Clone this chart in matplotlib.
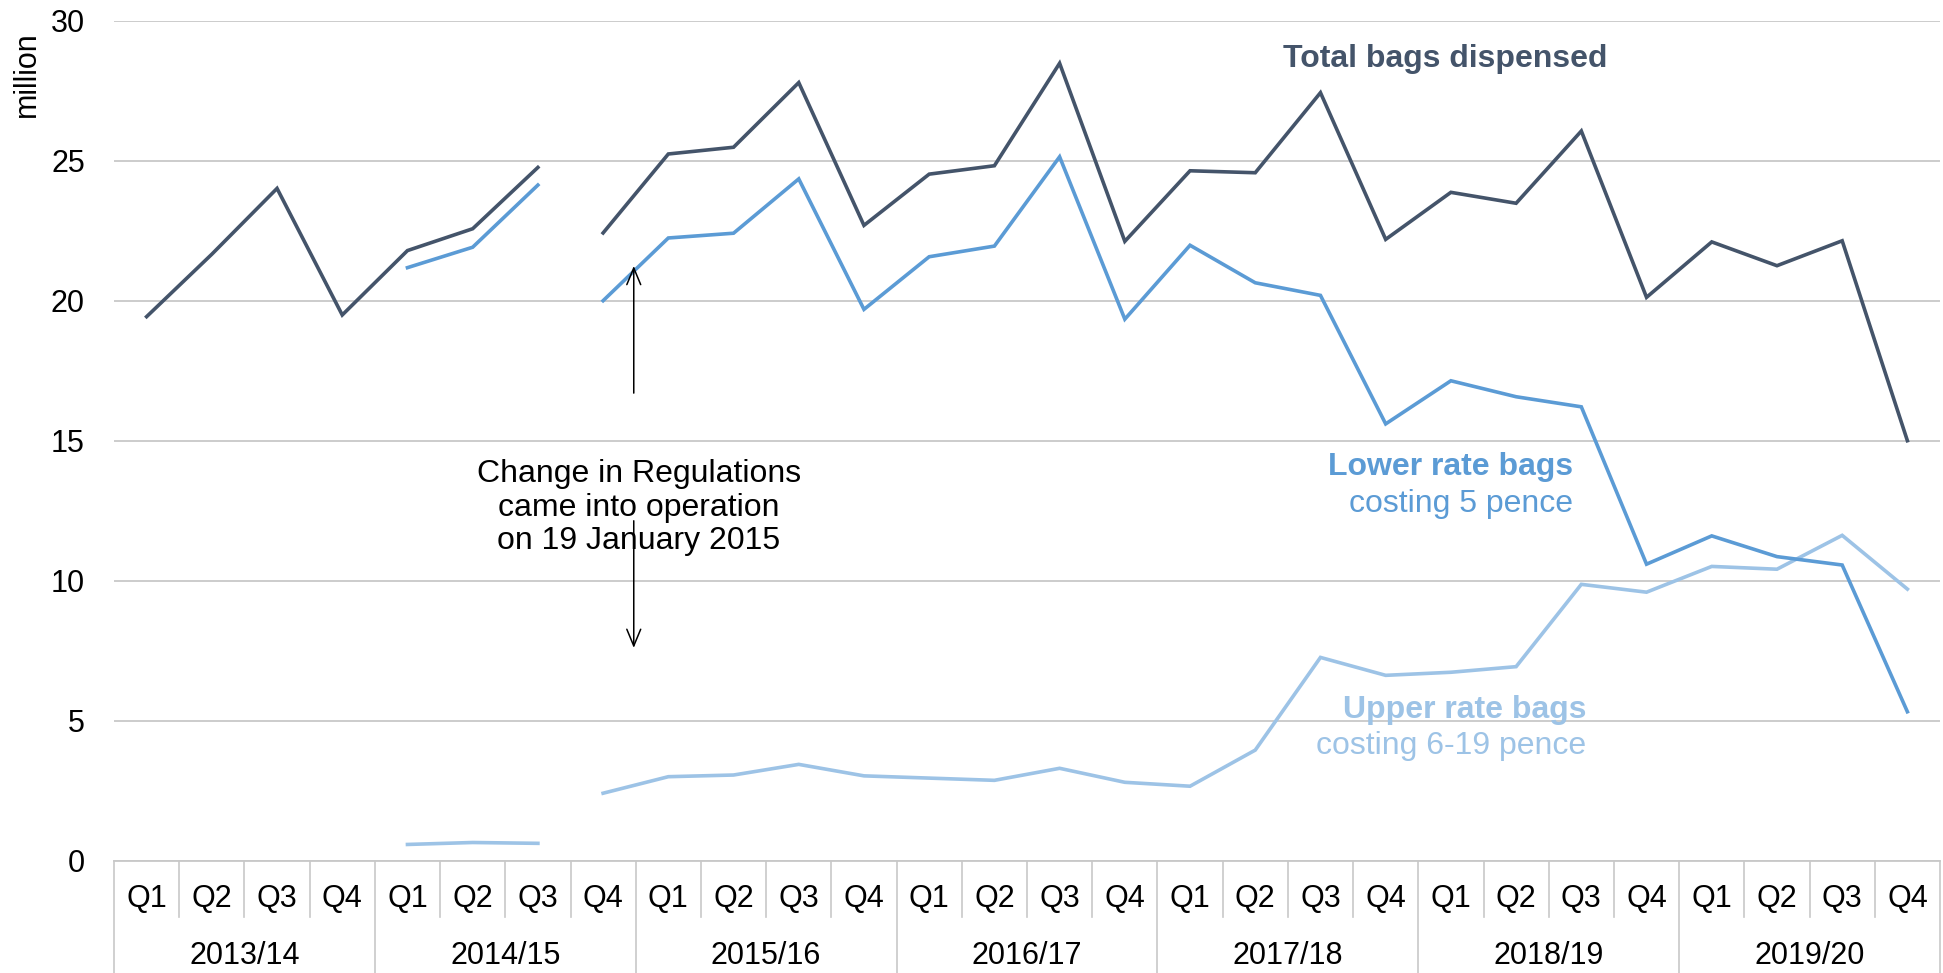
import matplotlib
matplotlib.use("Agg")
import matplotlib.pyplot as plt
import matplotlib.transforms as mtransforms
import numpy as np

plt.rcParams['font.family'] = ['Liberation Sans', 'DejaVu Sans']

years = ["2013/14", "2014/15", "2015/16", "2016/17", "2017/18", "2018/19", "2019/20"]
quarters = ["Q1", "Q2", "Q3", "Q4"]

total = [19.43, 21.66, 24.01, 19.49, 21.79, 22.57, 24.76,
         22.42, 25.24, 25.48, 27.79, 22.69, 24.52, 24.82, 28.48, 22.12,
         24.64, 24.57, 27.43, 22.19, 23.87, 23.48, 26.06, 20.12,
         22.10, 21.25, 22.14, 15.00]
lower = [np.nan, np.nan, np.nan, np.nan, 21.18, 21.91, 24.13,
         20.00, 22.24, 22.41, 24.35, 19.69, 21.57, 21.95, 25.14, 19.34,
         21.98, 20.64, 20.19, 15.60, 17.14, 16.57, 16.21, 10.59,
         11.60, 10.86, 10.56, 5.32]
upper = [np.nan, np.nan, np.nan, np.nan, 0.58, 0.65, 0.62,
         2.41, 3.00, 3.06, 3.44, 3.03, 2.95, 2.87, 3.30, 2.80,
         2.66, 3.95, 7.26, 6.62, 6.73, 6.93, 9.87, 9.59,
         10.51, 10.41, 11.62, 9.70]

split = 7  # regulation change: lines break between Q3 and Q4 of 2014/15

c_total = "#44546A"
c_lower = "#5B9BD5"
c_upper = "#9DC3E6"

W, H = 1943, 973
fig = plt.figure(figsize=(W / 100, H / 100), dpi=100)
ax = fig.add_axes([114 / W, (H - 860.7) / H, (1940 - 114) / W, (860.7 - 20.7) / H])

x = np.arange(len(total))
for series, col in [(upper, c_upper), (lower, c_lower), (total, c_total)]:
    s = np.array(series, dtype=float)
    ax.plot(x[:split], s[:split], color=col, lw=2.6, solid_joinstyle='miter', zorder=3)
    ax.plot(x[split:], s[split:], color=col, lw=2.6, solid_joinstyle='miter', zorder=3)

ax.set_xlim(-0.5, len(total) - 0.5)
ax.set_ylim(0, 30)
ax.set_yticks(np.arange(0, 31, 5))
ax.tick_params(axis='y', length=0, pad=21, labelsize=22)
ax.set_xticks([])
ax.yaxis.grid(True, color='#C8C8C8', lw=1.3)
ax.set_axisbelow(True)
for sp in ['top', 'right', 'left']:
    ax.spines[sp].set_visible(False)
ax.spines['bottom'].set_color('#C8C8C8')
ax.spines['bottom'].set_linewidth(1.3)

fig.text(27 / W, 1 - 74.5 / H, "million", rotation=90, ha='center', va='center', fontsize=22)

# hierarchical category axis
tr = mtransforms.blended_transform_factory(ax.transData, fig.transFigure)
y_axis = (H - 860.7) / H
y_qsep = (H - 917) / H
n = len(total)
for k in range(n + 1):
    xb = k - 0.5
    if k % 4 == 0:
        ax.plot([xb, xb], [y_axis, 0], transform=tr, color='#C8C8C8', lw=1.2, clip_on=False)
    else:
        ax.plot([xb, xb], [y_axis, y_qsep], transform=tr, color='#C8C8C8', lw=1.2, clip_on=False)
for k in range(n):
    ax.text(k, (H - 899) / H, quarters[k % 4], transform=tr, ha='center', va='center', fontsize=22)
for j, yr in enumerate(years):
    ax.text(4 * j + 1.5, (H - 956) / H, yr, transform=tr, ha='center', va='center', fontsize=22)

# series labels
ax.text(17.42, 28.63, "Total bags dispensed", color=c_total, fontsize=23, fontweight='bold',
        ha='left', va='center')
ax.text(21.88, 14.06, "Lower rate bags", color=c_lower, fontsize=23, fontweight='bold',
        ha='right', va='center')
ax.text(21.88, 12.74, "costing 5 pence", color=c_lower, fontsize=23, ha='right', va='center')
ax.text(22.08, 5.38, "Upper rate bags", color=c_upper, fontsize=23, fontweight='bold',
        ha='right', va='center')
ax.text(22.08, 4.10, "costing 6-19 pence", color=c_upper, fontsize=23, ha='right', va='center')

# regulation change annotation
ax.text(7.55, 12.6, "Change in Regulations\ncame into operation\non 19 January 2015",
        ha='center', va='center', fontsize=23, linespacing=1.15, color='black')
ax_x = 7.47
ap = dict(arrowstyle='->,head_length=0.6,head_width=0.25', lw=1.1, color='black',
          shrinkA=0, shrinkB=0, mutation_scale=20)
ax.annotate('', xy=(ax_x, 21.24), xytext=(ax_x, 16.7), arrowprops=ap, zorder=4)
ax.annotate('', xy=(ax_x, 7.6), xytext=(ax_x, 12.14), arrowprops=ap, zorder=4)

fig.savefig("out.png", dpi=100)
